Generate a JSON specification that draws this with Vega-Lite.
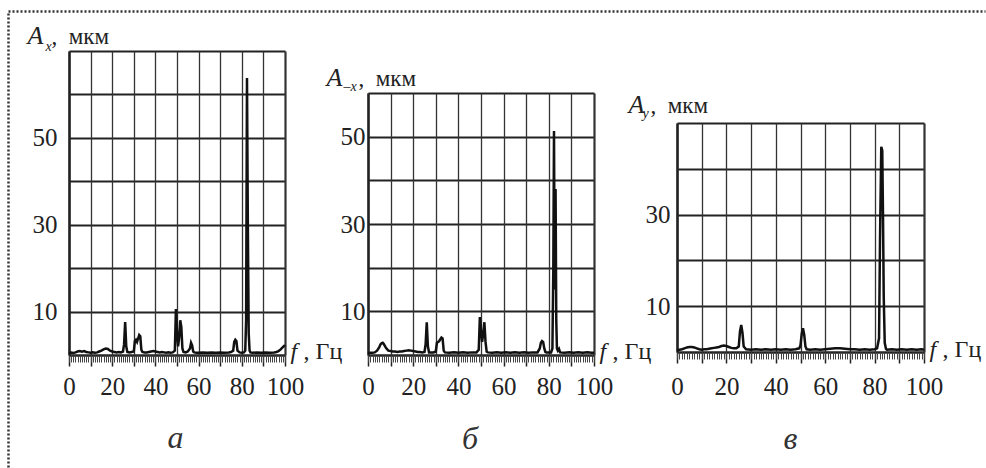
{
  "$schema": "https://vega.github.io/schema/vega-lite/v6.json",
  "padding": 0,
  "autosize": {"type": "pad"},
  "background": "white",
  "bounds": "flush",
  "spacing": 83,
  "config": {
    "view": {"stroke": null},
    "axis": {"labelFont": "Liberation Serif", "labelFontSize": 25, "labelColor": "#222", "titleFont": "Liberation Serif", "titleFontWeight": "normal", "titleColor": "#222", "labelOverlap": false, "labelFlush": false, "titlePadding": 0}
  },
  "datasets": {
    "da": [
      {"f":0,"A":0.4},{"f":1,"A":0.55},{"f":2,"A":0.45},{"f":3,"A":0.6},{"f":4,"A":0.8},{"f":5,"A":0.9},{"f":6,"A":0.75},{"f":7,"A":0.9},{"f":8,"A":0.7},{"f":9,"A":0.6},{"f":10,"A":0.5},{"f":11,"A":0.6},{"f":12,"A":0.5},{"f":13,"A":0.6},{"f":14,"A":0.8},{"f":15,"A":1.0},{"f":16,"A":1.3},{"f":17,"A":1.5},{"f":18,"A":1.4},{"f":19,"A":1.0},{"f":20,"A":0.8},{"f":21,"A":0.7},{"f":22,"A":0.6},{"f":23,"A":0.7},{"f":24,"A":0.6},{"f":25,"A":0.8},{"f":25.5,"A":2.5},{"f":26,"A":7.6},{"f":26.5,"A":2.0},{"f":27,"A":0.7},{"f":28,"A":0.6},{"f":29,"A":0.7},{"f":30,"A":0.8},{"f":30.5,"A":3.2},{"f":31,"A":3.5},{"f":31.5,"A":3.0},{"f":32,"A":3.8},{"f":32.5,"A":4.6},{"f":33,"A":4.3},{"f":33.5,"A":1.2},{"f":34,"A":0.7},{"f":35,"A":0.6},{"f":36,"A":0.6},{"f":37,"A":0.7},{"f":38,"A":0.8},{"f":39,"A":0.9},{"f":40,"A":0.8},{"f":41,"A":0.7},{"f":42,"A":0.6},{"f":43,"A":0.7},{"f":44,"A":0.6},{"f":45,"A":0.5},{"f":46,"A":0.6},{"f":47,"A":0.5},{"f":48,"A":0.6},{"f":49,"A":1.0},{"f":49.5,"A":10.6},{"f":50,"A":5.0},{"f":50.5,"A":2.0},{"f":51,"A":4.0},{"f":51.5,"A":8.0},{"f":52,"A":6.5},{"f":52.5,"A":1.5},{"f":53,"A":0.7},{"f":54,"A":0.6},{"f":55,"A":0.8},{"f":56,"A":1.5},{"f":56.5,"A":2.8},{"f":57,"A":2.2},{"f":57.5,"A":0.8},{"f":58,"A":0.6},{"f":59,"A":0.5},{"f":60,"A":0.5},{"f":62,"A":0.6},{"f":64,"A":0.5},{"f":66,"A":0.6},{"f":68,"A":0.5},{"f":70,"A":0.6},{"f":72,"A":0.5},{"f":74,"A":0.6},{"f":75,"A":0.7},{"f":76,"A":1.0},{"f":76.5,"A":3.0},{"f":77,"A":3.5},{"f":77.5,"A":3.2},{"f":78,"A":1.0},{"f":79,"A":0.6},{"f":80,"A":0.5},{"f":81,"A":0.6},{"f":81.6,"A":1.0},{"f":82,"A":8},{"f":82.4,"A":63.8},{"f":82.8,"A":30},{"f":83.2,"A":5},{"f":83.6,"A":1.0},{"f":84,"A":0.6},{"f":85,"A":0.5},{"f":87,"A":0.6},{"f":89,"A":0.5},{"f":91,"A":0.6},{"f":93,"A":0.5},{"f":95,"A":0.6},{"f":96,"A":0.7},{"f":97,"A":0.9},{"f":98,"A":1.3},{"f":99,"A":1.8},{"f":100,"A":2.3}
    ],
    "db": [
      {"f":0,"A":0.4},{"f":1,"A":0.5},{"f":2,"A":0.5},{"f":3,"A":0.6},{"f":4,"A":1.0},{"f":5,"A":1.8},{"f":5.5,"A":2.4},{"f":6,"A":2.7},{"f":6.5,"A":2.8},{"f":7,"A":2.5},{"f":8,"A":1.6},{"f":9,"A":1.0},{"f":10,"A":0.9},{"f":11,"A":0.8},{"f":12,"A":0.8},{"f":13,"A":0.7},{"f":14,"A":0.8},{"f":15,"A":0.8},{"f":16,"A":0.9},{"f":17,"A":1.0},{"f":18,"A":1.1},{"f":19,"A":1.0},{"f":20,"A":0.9},{"f":21,"A":0.8},{"f":22,"A":0.7},{"f":23,"A":0.7},{"f":24,"A":0.6},{"f":25,"A":0.7},{"f":25.5,"A":2.5},{"f":26,"A":7.5},{"f":26.5,"A":2.0},{"f":27,"A":0.6},{"f":28,"A":0.6},{"f":29,"A":0.6},{"f":30,"A":0.8},{"f":30.5,"A":2.8},{"f":31,"A":3.0},{"f":31.5,"A":3.2},{"f":32,"A":3.6},{"f":32.5,"A":4.0},{"f":33,"A":3.8},{"f":33.5,"A":1.0},{"f":34,"A":0.6},{"f":36,"A":0.5},{"f":38,"A":0.6},{"f":40,"A":0.5},{"f":42,"A":0.6},{"f":44,"A":0.5},{"f":46,"A":0.6},{"f":48,"A":0.6},{"f":49,"A":1.2},{"f":49.5,"A":8.7},{"f":50,"A":5.5},{"f":50.5,"A":3.0},{"f":51,"A":5.0},{"f":51.5,"A":7.5},{"f":52,"A":3.0},{"f":52.5,"A":0.8},{"f":53,"A":0.6},{"f":55,"A":0.5},{"f":57,"A":0.6},{"f":59,"A":0.5},{"f":61,"A":0.6},{"f":63,"A":0.5},{"f":65,"A":0.6},{"f":67,"A":0.5},{"f":69,"A":0.6},{"f":71,"A":0.5},{"f":73,"A":0.6},{"f":75,"A":0.6},{"f":76,"A":1.5},{"f":76.5,"A":2.8},{"f":77,"A":3.2},{"f":77.5,"A":3.0},{"f":78,"A":1.5},{"f":78.5,"A":0.7},{"f":79,"A":0.6},{"f":80,"A":0.6},{"f":81,"A":0.6},{"f":81.6,"A":1.5},{"f":82,"A":20},{"f":82.3,"A":51.3},{"f":82.6,"A":15},{"f":83,"A":38},{"f":83.3,"A":8},{"f":83.6,"A":1.5},{"f":84,"A":1.0},{"f":84.5,"A":1.4},{"f":85,"A":0.6},{"f":87,"A":0.5},{"f":89,"A":0.6},{"f":91,"A":0.5},{"f":93,"A":0.6},{"f":95,"A":0.5},{"f":97,"A":0.6},{"f":99,"A":0.5},{"f":100,"A":0.5}
    ],
    "dv": [
      {"f":0,"A":0.4},{"f":1,"A":0.5},{"f":2,"A":0.6},{"f":3,"A":0.8},{"f":4,"A":1.0},{"f":5,"A":1.1},{"f":6,"A":1.1},{"f":7,"A":1.0},{"f":8,"A":0.8},{"f":9,"A":0.6},{"f":10,"A":0.5},{"f":11,"A":0.6},{"f":12,"A":0.6},{"f":13,"A":0.7},{"f":14,"A":0.8},{"f":15,"A":0.9},{"f":16,"A":1.0},{"f":17,"A":1.1},{"f":18,"A":1.3},{"f":19,"A":1.4},{"f":20,"A":1.3},{"f":21,"A":1.1},{"f":22,"A":0.9},{"f":23,"A":0.8},{"f":24,"A":0.8},{"f":25,"A":1.2},{"f":25.5,"A":4.5},{"f":26,"A":5.9},{"f":26.5,"A":4.2},{"f":27,"A":1.2},{"f":28,"A":0.6},{"f":30,"A":0.5},{"f":32,"A":0.6},{"f":34,"A":0.5},{"f":36,"A":0.6},{"f":38,"A":0.5},{"f":40,"A":0.6},{"f":42,"A":0.5},{"f":44,"A":0.6},{"f":46,"A":0.5},{"f":48,"A":0.6},{"f":49.5,"A":0.8},{"f":50,"A":1.5},{"f":50.5,"A":4.0},{"f":51,"A":5.2},{"f":51.5,"A":3.8},{"f":52,"A":1.2},{"f":52.5,"A":0.6},{"f":54,"A":0.5},{"f":56,"A":0.6},{"f":58,"A":0.5},{"f":60,"A":0.6},{"f":62,"A":0.7},{"f":64,"A":0.8},{"f":66,"A":0.8},{"f":68,"A":0.7},{"f":70,"A":0.6},{"f":72,"A":0.6},{"f":74,"A":0.5},{"f":76,"A":0.6},{"f":78,"A":0.5},{"f":80,"A":0.6},{"f":81,"A":0.8},{"f":81.8,"A":3},{"f":82.2,"A":25},{"f":82.7,"A":44.8},{"f":83.1,"A":44},{"f":83.4,"A":30},{"f":83.7,"A":12},{"f":84.1,"A":2.0},{"f":84.6,"A":0.7},{"f":85,"A":0.5},{"f":87,"A":0.6},{"f":89,"A":0.5},{"f":91,"A":0.6},{"f":93,"A":0.5},{"f":95,"A":0.6},{"f":97,"A":0.5},{"f":99,"A":0.6},{"f":100,"A":0.5}
    ]
  },
  "hconcat": [
    {
      "width": 216, "height": 304,
      "data": {"name": "da"},
      "resolve": {"scale": {"x": "independent", "y": "independent"}, "axis": {"x": "independent", "y": "independent"}},
      "layer": [
        {
          "resolve": {"axis": {"x": "independent", "y": "independent"}},
          "layer": [
            {
              "mark": {"type": "line", "color": "#111", "strokeWidth": 2.5},
              "encoding": {
                "x": {"field": "f", "type": "quantitative", "scale": {"domain": [0, 100], "nice": false},
                  "axis": {"orient": "bottom", "values": [0,10,20,30,40,50,60,70,80,90,100], "labelExpr": "datum.value % 20 === 0 ? datum.label : ''", "labelFont": "Liberation Serif", "labelFontSize": 25, "grid": false, "ticks": true, "tickSize": 11, "tickColor": "#222", "tickWidth": 1.5, "domain": true, "domainColor": "#222", "domainWidth": 2.2, "labelPadding": 8,
                    "title": "f", "titleFont": "Liberation Serif", "titleFontStyle": "italic", "titleFontSize": 24, "titleAngle": 0, "titleX": 221, "titleY": 3, "titleAlign": "left", "titleBaseline": "alphabetic"}},
                "y": {"field": "A", "type": "quantitative", "scale": {"domain": [0, 70], "nice": false},
                  "axis": {"orient": "left", "values": [0,10,20,30,40,50,60,70], "labelExpr": "datum.value === 10 || datum.value === 30 || datum.value === 50 ? datum.label : ''", "labelFont": "Liberation Serif", "labelFontSize": 25, "grid": true, "gridColor": "#222", "gridWidth": 2, "ticks": false, "domain": true, "domainColor": "#222", "domainWidth": 2.2, "labelPadding": 12,
                    "title": "A", "titleFont": "Liberation Serif", "titleFontStyle": "italic", "titleFontSize": 26, "titleAngle": 0, "titleX": -42, "titleY": -8, "titleAlign": "left", "titleBaseline": "alphabetic"}}
              }
            },
            {
              "mark": {"type": "line", "opacity": 0},
              "encoding": {
                "x": {"field": "f", "type": "quantitative",
                  "axis": {"orient": "bottom", "values": [0,10,20,30,40,50,60,70,80,90,100], "labels": false, "grid": false, "domain": false, "ticks": true, "tickSize": -304, "tickColor": "#333", "tickWidth": {"condition": {"test": "datum.value === 0 || datum.value === 100", "value": 2.2}, "value": 1.3},
                    "title": ",\u00a0Гц", "titleFont": "Liberation Serif", "titleFontSize": 24, "titleAngle": 0, "titleX": 234, "titleY": 3, "titleAlign": "left", "titleBaseline": "alphabetic"}},
                "y": {"field": "A", "type": "quantitative",
                  "axis": {"orient": "left", "labels": false, "ticks": false, "grid": false, "domain": false,
                    "title": "x", "titleFont": "Liberation Serif", "titleFontStyle": "italic", "titleFontSize": 14, "titleAngle": 0, "titleX": -24, "titleY": -1, "titleAlign": "left", "titleBaseline": "alphabetic"}}
              }
            },
            {
              "mark": {"type": "line", "opacity": 0},
              "encoding": {
                "x": {"field": "f", "type": "quantitative",
                  "axis": {"orient": "bottom", "tickCount": 100, "labels": false, "grid": false, "domain": false, "ticks": true, "tickSize": 7, "tickColor": "#444", "tickWidth": 1,
                    "title": ".", "titleColor": "rgba(0,0,0,0)", "titleFontSize": 10, "titleAngle": 0, "titleX": -69, "titleY": -355, "titleAlign": "left", "titleBaseline": "top"}},
                "y": {"field": "A", "type": "quantitative",
                  "axis": {"orient": "left", "labels": false, "ticks": false, "grid": false, "domain": false,
                    "title": ",\u00a0\u00a0мкм", "titleFont": "Liberation Serif", "titleFontSize": 23, "titleAngle": 0, "titleX": -18, "titleY": -8, "titleAlign": "left", "titleBaseline": "alphabetic"}}
              }
            }
          ]
        },
        {
          "mark": {"type": "line", "opacity": 0},
          "encoding": {
            "x": {"field": "f", "type": "quantitative", "scale": {"domain": [0, 100], "nice": false, "range": [-61, 916]},
              "axis": {"orient": "top", "offset": 40, "labels": false, "ticks": false, "grid": false, "domain": true, "domainDash": [2, 2], "domainWidth": 2.5, "domainColor": "#333",
                "title": "а", "titleFont": "Liberation Serif", "titleFontStyle": "italic", "titleFontSize": 32, "titleColor": "#333", "titleAngle": 0, "titleX": 106, "titleY": 436, "titleAlign": "center", "titleBaseline": "alphabetic"}},
            "y": {"field": "A", "type": "quantitative", "scale": {"domain": [0, 70], "nice": false, "range": [416, -40]},
              "axis": {"orient": "left", "offset": 61, "labels": false, "ticks": false, "grid": false, "domain": true, "domainDash": [2, 2], "domainWidth": 2.5, "domainColor": "#333", "title": null}}
          }
        }
      ]
    },
    {
      "width": 226, "height": 304,
      "data": {"name": "db"},
      "title": {"text": "б", "orient": "bottom", "frame": "group", "anchor": "middle", "offset": 25, "dx": -11, "font": "Liberation Serif", "fontStyle": "italic", "fontSize": 32, "fontWeight": "normal", "color": "#333"},
      "resolve": {"axis": {"x": "independent", "y": "independent"}},
      "layer": [
        {
          "mark": {"type": "line", "color": "#111", "strokeWidth": 2.5},
          "encoding": {
            "x": {"field": "f", "type": "quantitative", "scale": {"domain": [0, 100], "nice": false},
              "axis": {"orient": "bottom", "values": [0,10,20,30,40,50,60,70,80,90,100], "labelExpr": "datum.value % 20 === 0 ? datum.label : ''", "labelFont": "Liberation Serif", "labelFontSize": 25, "grid": false, "ticks": true, "tickSize": 11, "tickColor": "#222", "tickWidth": 1.5, "domain": true, "domainColor": "#222", "domainWidth": 2.2, "labelPadding": 8,
                "title": "f", "titleFont": "Liberation Serif", "titleFontStyle": "italic", "titleFontSize": 24, "titleAngle": 0, "titleX": 231, "titleY": 3, "titleAlign": "left", "titleBaseline": "alphabetic"}},
            "y": {"field": "A", "type": "quantitative", "scale": {"domain": [0, 60], "nice": false, "range": [304, 42]},
              "axis": {"orient": "left", "values": [0,10,20,30,40,50,60], "labelExpr": "datum.value === 10 || datum.value === 30 || datum.value === 50 ? datum.label : ''", "labelFont": "Liberation Serif", "labelFontSize": 25, "grid": true, "gridColor": "#222", "gridWidth": 2, "ticks": false, "domain": true, "domainColor": "#222", "domainWidth": 2.2, "labelPadding": 3,
                "title": "A", "titleFont": "Liberation Serif", "titleFontStyle": "italic", "titleFontSize": 26, "titleAngle": 0, "titleX": -42, "titleY": 34, "titleAlign": "left", "titleBaseline": "alphabetic"}}
          }
        },
        {
          "mark": {"type": "line", "opacity": 0},
          "encoding": {
            "x": {"field": "f", "type": "quantitative",
              "axis": {"orient": "bottom", "values": [0,10,20,30,40,50,60,70,80,90,100], "labels": false, "grid": false, "domain": false, "ticks": true, "tickSize": -262, "tickColor": "#333", "tickWidth": {"condition": {"test": "datum.value === 0 || datum.value === 100", "value": 2.2}, "value": 1.3},
                "title": ",\u00a0Гц", "titleFont": "Liberation Serif", "titleFontSize": 24, "titleAngle": 0, "titleX": 244, "titleY": 3, "titleAlign": "left", "titleBaseline": "alphabetic"}},
            "y": {"field": "A", "type": "quantitative",
              "axis": {"orient": "left", "labels": false, "ticks": false, "grid": false, "domain": false,
                "title": "–x", "titleFont": "Liberation Serif", "titleFontStyle": "italic", "titleFontSize": 14, "titleAngle": 0, "titleX": -25, "titleY": 39, "titleAlign": "left", "titleBaseline": "alphabetic"}}
          }
        },
        {
          "mark": {"type": "line", "opacity": 0},
          "encoding": {
            "x": {"field": "f", "type": "quantitative",
              "axis": {"orient": "bottom", "tickCount": 100, "labels": false, "grid": false, "domain": false, "ticks": true, "tickSize": 7, "tickColor": "#444", "tickWidth": 1, "title": null}},
            "y": {"field": "A", "type": "quantitative",
              "axis": {"orient": "left", "labels": false, "ticks": false, "grid": false, "domain": false,
                "title": ",\u00a0\u00a0мкм", "titleFont": "Liberation Serif", "titleFontSize": 23, "titleAngle": 0, "titleX": -10, "titleY": 34, "titleAlign": "left", "titleBaseline": "alphabetic"}}
          }
        }
      ]
    },
    {
      "width": 247, "height": 304,
      "data": {"name": "dv"},
      "title": {"text": "в", "orient": "bottom", "frame": "group", "anchor": "middle", "offset": 25, "dx": -10, "font": "Liberation Serif", "fontStyle": "italic", "fontSize": 32, "fontWeight": "normal", "color": "#333"},
      "resolve": {"axis": {"x": "independent", "y": "independent"}},
      "layer": [
        {
          "mark": {"type": "line", "color": "#111", "strokeWidth": 2.5},
          "encoding": {
            "x": {"field": "f", "type": "quantitative", "scale": {"domain": [0, 100], "nice": false},
              "axis": {"orient": "bottom", "offset": -3, "values": [0,10,20,30,40,50,60,70,80,90,100], "labelExpr": "datum.value % 20 === 0 ? datum.label : ''", "labelFont": "Liberation Serif", "labelFontSize": 25, "grid": false, "ticks": true, "tickSize": 11, "tickColor": "#222", "tickWidth": 1.5, "domain": true, "domainColor": "#222", "domainWidth": 2.2, "labelPadding": 11,
                "title": "f", "titleFont": "Liberation Serif", "titleFontStyle": "italic", "titleFontSize": 24, "titleAngle": 0, "titleX": 252, "titleY": 4, "titleAlign": "left", "titleBaseline": "alphabetic"}},
            "y": {"field": "A", "type": "quantitative", "scale": {"domain": [0, 50], "nice": false, "range": [301, 72]},
              "axis": {"orient": "left", "values": [0,10,20,30,40,50], "labelExpr": "datum.value === 10 || datum.value === 30 ? datum.label : ''", "labelFont": "Liberation Serif", "labelFontSize": 25, "grid": true, "gridColor": "#222", "gridWidth": 2, "ticks": false, "domain": true, "domainColor": "#222", "domainWidth": 2.2, "labelPadding": 7,
                "title": "A", "titleFont": "Liberation Serif", "titleFontStyle": "italic", "titleFontSize": 26, "titleAngle": 0, "titleX": -49, "titleY": 61, "titleAlign": "left", "titleBaseline": "alphabetic"}}
          }
        },
        {
          "mark": {"type": "line", "opacity": 0},
          "encoding": {
            "x": {"field": "f", "type": "quantitative",
              "axis": {"orient": "bottom", "offset": -3, "values": [0,10,20,30,40,50,60,70,80,90,100], "labels": false, "grid": false, "domain": false, "ticks": true, "tickSize": -229, "tickColor": "#333", "tickWidth": {"condition": {"test": "datum.value === 0 || datum.value === 100", "value": 2.2}, "value": 1.3},
                "title": ",\u00a0Гц", "titleFont": "Liberation Serif", "titleFontSize": 24, "titleAngle": 0, "titleX": 265, "titleY": 4, "titleAlign": "left", "titleBaseline": "alphabetic"}},
            "y": {"field": "A", "type": "quantitative",
              "axis": {"orient": "left", "labels": false, "ticks": false, "grid": false, "domain": false,
                "title": "y", "titleFont": "Liberation Serif", "titleFontStyle": "italic", "titleFontSize": 14, "titleAngle": 0, "titleX": -35, "titleY": 66, "titleAlign": "left", "titleBaseline": "alphabetic"}}
          }
        },
        {
          "mark": {"type": "line", "opacity": 0},
          "encoding": {
            "x": {"field": "f", "type": "quantitative",
              "axis": {"orient": "bottom", "offset": -3, "tickCount": 100, "labels": false, "grid": false, "domain": false, "ticks": true, "tickSize": 7, "tickColor": "#444", "tickWidth": 1, "title": null}},
            "y": {"field": "A", "type": "quantitative",
              "axis": {"orient": "left", "labels": false, "ticks": false, "grid": false, "domain": false,
                "title": ",\u00a0\u00a0мкм", "titleFont": "Liberation Serif", "titleFontSize": 23, "titleAngle": 0, "titleX": -27, "titleY": 61, "titleAlign": "left", "titleBaseline": "alphabetic"}}
          }
        }
      ]
    }
  ]
}
